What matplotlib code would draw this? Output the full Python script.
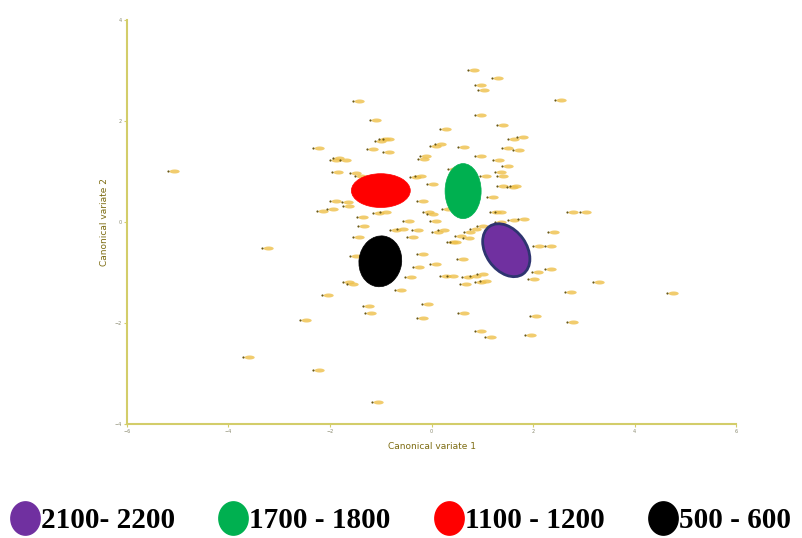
import numpy as np
import matplotlib.pyplot as plt
from matplotlib.patches import Ellipse
from matplotlib.path import Path
from matplotlib.lines import Line2D

# canonical variate scores
cv1 = [-5.19, -3.34, -3.71, -2.59, -2.33, -1.17, -1.55, -1.21, -1.11, -1.03,
       -0.96, -2.33, -2.00, -1.94, -1.80, -1.27, -0.96, -0.27, -0.23, -1.96,
       -1.61, -1.51, -0.42, -0.33, -0.03, 0.72, 1.19, 0.86, 0.92, 2.43,
       0.86, 0.17, 1.29, 1.51, 1.68, 0.07, 0.52, 1.39, 1.61, 0.86,
       1.21, 1.39, 0.33, 1.25, 1.29, 0.96, -0.09, -2.00, -1.76, -1.74,
       -2.26, -2.06, -1.47, -1.15, -1.01, -0.29, -0.17, -0.09, -0.56, -0.03,
       -1.45, -0.82, -0.68, -0.38, -0.48, -1.55, -1.61, -0.29, -0.03, -0.36,
       -0.52, -1.74, -1.67, 1.29, 1.49, 1.55, 1.09, 0.21, 1.25, 2.67,
       2.93, 1.25, 1.51, 1.70, 0.76, 0.90, 0.64, 0.13, 0.01, 0.46,
       0.62, 0.31, 2.30, 2.00, 2.24, 0.50, 1.98, 1.90, 2.24, 0.17,
       0.31, 0.60, 0.76, 0.90, 0.56, 0.86, 0.96, 3.18, 2.63, 4.64,
       -0.19, -0.29, 0.52, 1.94, 2.67, 0.86, 1.05, 1.84, -2.16, -1.35,
       -1.31, -0.72, 1.15, 0.36]
cv2 = [1.00, -0.52, -2.68, -1.95, -2.94, -3.57, 2.39, 2.01, 1.60, 1.64,
       1.64, 1.46, 1.22, 1.26, 1.22, 1.44, 1.38, 1.24, 1.30, 0.98,
       0.96, 0.90, 0.89, 0.90, 1.50, 3.00, 2.85, 2.71, 2.61, 2.41,
       2.11, 1.84, 1.91, 1.64, 1.68, 1.54, 1.48, 1.46, 1.42, 1.30,
       1.22, 1.10, 1.04, 0.98, 0.90, 0.90, 0.75, 0.41, 0.39, 0.31,
       0.21, 0.25, 0.09, 0.17, 0.19, 0.41, 0.19, 0.15, 0.01, 0.01,
       -0.09, -0.16, -0.14, -0.16, -0.30, -0.30, -0.68, -0.64, -0.84, -0.90,
       -1.10, -1.19, -1.23, 0.71, 0.69, 0.71, 0.49, 0.25, 0.19, 0.19,
       0.19, -0.01, 0.03, 0.05, -0.14, -0.09, -0.20, -0.16, -0.20, -0.28,
       -0.32, -0.40, -0.20, -0.48, -0.48, -0.74, -1.00, -1.13, -0.94, -1.07,
       -1.07, -1.09, -1.07, -1.04, -1.23, -1.19, -1.17, -1.19, -1.39, -1.41,
       -1.63, -1.91, -1.81, -1.87, -1.99, -2.16, -2.28, -2.24, -1.45, -1.67,
       -1.81, -1.35, 0.19, -0.40]

# group ellipses: label, centre x, centre y, width, height, angle
grp_labels = ['2100- 2200', '1700 - 1800', '1100 - 1200', '500 - 600']
grp_cx = [1.47, 0.62, -1.00, -1.01]
grp_cy = [-0.56, 0.61, 0.62, -0.78]
grp_w = [0.80, 0.71, 1.16, 0.84]
grp_h = [1.15, 1.09, 0.67, 1.01]
grp_ang = [35, 0, 0, -8]
grp_col = ['#7030a0', '#00b050', '#ff0000', '#000000']
grp_edge = ['#2e3470', '#00b050', '#ff0000', '#000000']

axcol = '#d3cd6a'
txtcol = '#7d6c12'

fig = plt.figure(figsize=(8.03, 5.38), dpi=100)
ax = fig.add_axes([0.158, 0.212, 0.759, 0.751])

# label-like blob marker (the point labels in the original)
t = np.linspace(0, 2*np.pi, 40)
blob = Path(np.column_stack([0.55 + 0.45*np.cos(t), 0.18*np.sin(t)]))
ax.scatter(cv1, cv2, s=260, marker=blob, color='#eec04a', alpha=0.8,
           linewidths=0, zorder=2)
ax.scatter(cv1, cv2, s=2.5, color='#6a5814', linewidths=0, zorder=3)

for i in range(len(grp_labels)):
    e = Ellipse((grp_cx[i], grp_cy[i]), grp_w[i], grp_h[i], angle=grp_ang[i],
                facecolor=grp_col[i], edgecolor=grp_edge[i],
                linewidth=2 if i == 0 else 0.5, zorder=5)
    ax.add_patch(e)

ax.set_xlim(-6, 6)
ax.set_ylim(-4, 4)
ax.set_xticks([-6, -4, -2, 0, 2, 4, 6])
ax.set_yticks([-4, -2, 0, 2, 4])
for s in ['top', 'right']:
    ax.spines[s].set_visible(False)
for s in ['left', 'bottom']:
    ax.spines[s].set_color(axcol)
    ax.spines[s].set_linewidth(1.5)
ax.tick_params(colors=axcol, labelcolor='#8a8a70', labelsize=3.5,
               length=2, width=0.8, pad=1.5)
ax.set_xlabel('Canonical variate 1', fontsize=6.5, color=txtcol, labelpad=6)
ax.set_ylabel('Canonical variate 2', fontsize=6.5, color=txtcol, labelpad=4)

# legend at the bottom
te = np.linspace(0, 2*np.pi, 60)
oval = Path(np.column_stack([0.88*np.cos(te), np.sin(te)]))
handles = [Line2D([], [], linestyle='none', marker=oval, markersize=24,
                  markerfacecolor=grp_col[i], markeredgecolor=grp_col[i])
           for i in range(len(grp_labels))]
fig.legend(handles, grp_labels, loc='center', bbox_to_anchor=(0.5, 0.033),
           ncol=4, frameon=False, handlelength=0.9, handletextpad=0.1,
           columnspacing=1.55,
           prop={'family': 'Liberation Serif', 'weight': 'bold', 'size': 21})

fig.savefig('out.png', dpi=100)
